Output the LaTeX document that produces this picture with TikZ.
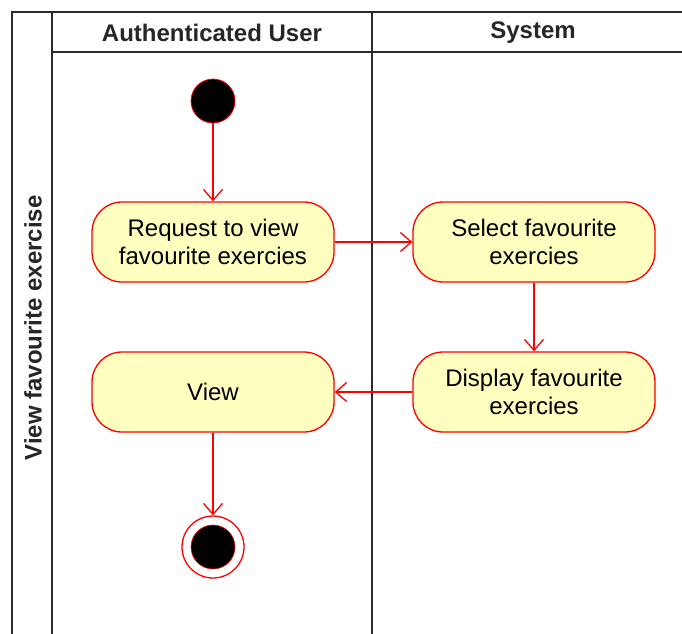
\documentclass[tikz,border=0pt]{standalone}
\usepackage{fontspec}
\setmainfont{Liberation Sans}
\usetikzlibrary{arrows.meta}
\definecolor{actfill}{HTML}{FFFFC0}
\definecolor{flowred}{HTML}{FF0000}
\definecolor{laneline}{HTML}{2A2A2A}

\begin{document}
\begin{tikzpicture}[x=1pt,y=-1pt,
  lane/.style={draw=laneline, line width=1.6pt},
  action/.style={draw=flowred, fill=actfill, line width=1.3pt, rounded corners=30pt,
    minimum width=242pt, minimum height=80pt, align=center, inner sep=0pt,
    font=\fontsize{24}{28}\selectfont},
  flow/.style={draw=flowred, line width=1.3pt,
    -{Straight Barb[length=11pt,width=19pt,line width=1.3pt]}},
  header/.style={font=\bfseries\fontsize{24}{28}\selectfont, text=black!85}]
\useasboundingbox (0,0) rectangle (682,633);
\clip (0,0) rectangle (682,633);
\fill[white] (0,0) rectangle (682,633);

% swimlane frame
\draw[lane] (12,645) -- (12,12) -- (700,12);
\draw[lane] (52,12) -- (52,645);
\draw[lane] (52,52) -- (700,52);
\draw[lane] (372,12) -- (372,645);

% lane titles
\node[header] (hUser) at (212,33) {Authenticated User};
\node[header] (hSys) at (533,33) {System};
\node[header, rotate=90] (pool) at (33,328) {View favourite exercise};

% initial node
\node[circle, fill=black, draw=flowred, line width=0.8pt, minimum size=44pt, inner sep=0pt] (start) at (213,101) {};

% actions
\node[action] (req) at (213,242) {Request to view\\favourite exercies};
\node[action] (sel) at (534,242) {Select favourite\\exercies};
\node[action] (disp) at (534,392) {Display favourite\\exercies};
\node[action] (view) at (213,392) {View};

% final node
\node[circle, draw=flowred, fill=white, line width=1.3pt, minimum size=62pt, inner sep=0pt] (end) at (213,547) {};
\node[circle, fill=black, draw=flowred, line width=0.6pt, minimum size=44pt, inner sep=0pt] (endDot) at (end) {};

% control flows
\draw[flow] (start) -- (req);
\draw[flow] (req) -- (sel);
\draw[flow] (sel) -- (disp);
\draw[flow] (disp) -- (view);
\draw[flow] (view) -- (end);
\end{tikzpicture}
\end{document}
